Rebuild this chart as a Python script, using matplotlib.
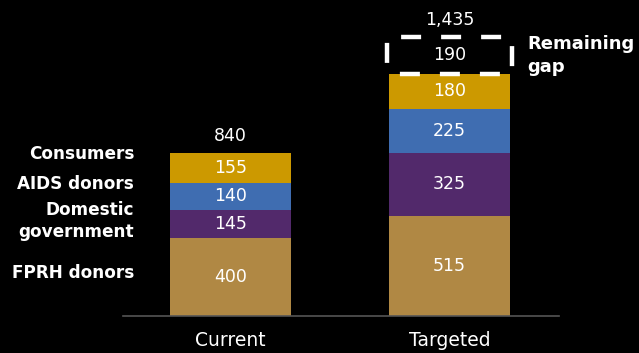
import matplotlib.pyplot as plt
from matplotlib.patches import Rectangle

categories = ['Current', 'Targeted']
segment_names = ['FPRH donors', 'Domestic\ngovernment', 'AIDS donors', 'Consumers']
current = [400, 145, 140, 155]
targeted = [515, 325, 225, 180]
gap = 190
colors = ['#B08844', '#52296B', '#3F6DB1', '#CC9900']

plt.rcParams['font.family'] = ['DejaVu Sans']

fig = plt.figure(figsize=(6.39, 3.53), dpi=100, facecolor='black')
ax = fig.add_axes([0, 0, 1, 1], facecolor='black')
ax.set_xlim(-1.0525, 1.865)
ax.set_ylim(-190, 1625)
ax.axis('off')

x = [0, 1]
w = 0.553
for i, vals in enumerate([current, targeted]):
    bottom = 0
    for v, c in zip(vals, colors):
        ax.bar(x[i], v, w, bottom=bottom, color=c, edgecolor='none')
        ax.text(x[i], bottom + v / 2, str(v), ha='center', va='center',
                color='white', fontsize=12.5)
        bottom += v

# remaining gap box
top_t = sum(targeted)
ax.add_patch(Rectangle((x[1] - w / 2 - 0.01, top_t), w + 0.02, gap,
                       fill=False, edgecolor='white', linewidth=3.2,
                       linestyle=(6.1, (4.5, 4.5)), clip_on=False))
ax.text(x[1], top_t + gap / 2, str(gap), ha='center', va='center',
        color='white', fontsize=12.5)
ax.text(x[1] + w / 2 + 0.08, top_t + gap / 2, 'Remaining\ngap', ha='left',
        va='center', color='white', fontsize=13, fontweight='bold',
        linespacing=1.3)

totals = [sum(current), sum(targeted) + gap]
for xi, t in zip(x, totals):
    ax.text(xi, t + 42, f'{t:,}', ha='center', va='bottom', color='white',
            fontsize=12.5)

# baseline
ax.plot([-0.49, 1.5], [0, 0], color='#555555', linewidth=1.2)

# category labels
for xi, c in zip(x, categories):
    ax.text(xi, -128, c, ha='center', va='center', color='white', fontsize=13.5)

# segment labels on left
label_y = [223, 487, 679, 835]
for name, ly in zip(segment_names, label_y):
    ax.text(-0.44, ly, name, ha='right', va='center', color='white',
            fontsize=12.2, fontweight='bold', linespacing=1.3)

fig.savefig('out.png', dpi=100, facecolor='black')
